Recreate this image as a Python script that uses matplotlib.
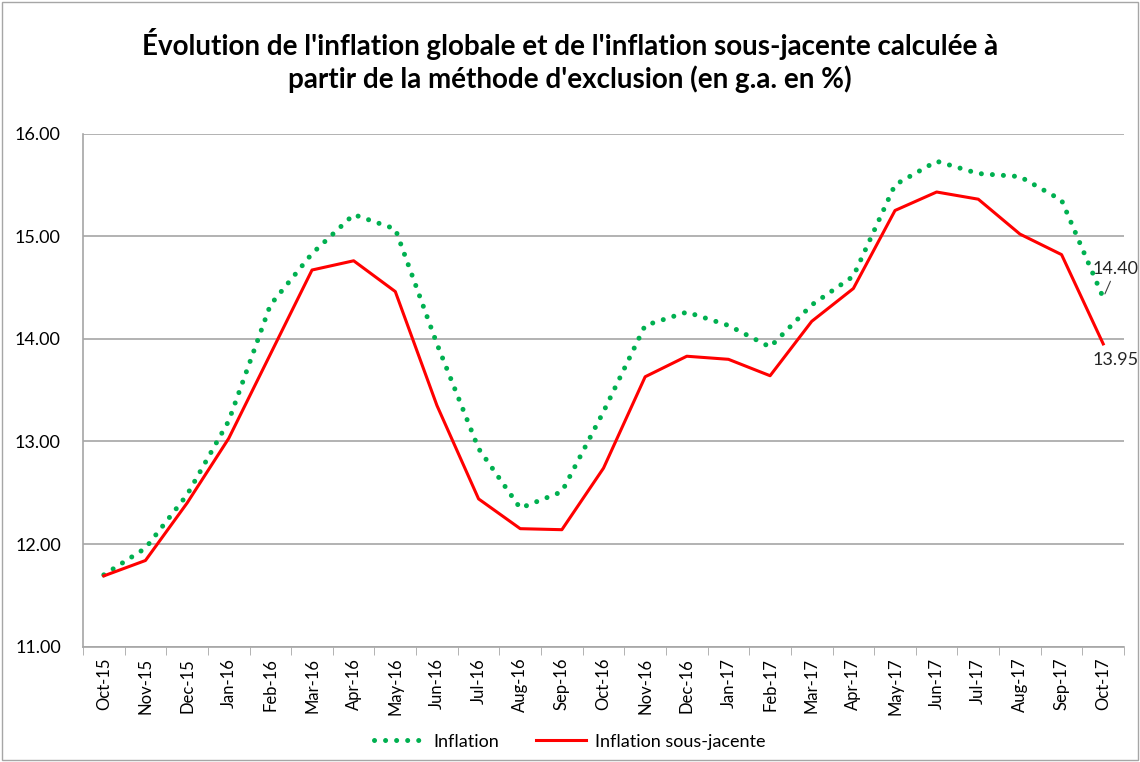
import numpy as np
import matplotlib
matplotlib.use("Agg")
import matplotlib.pyplot as plt

months = ["Oct-15", "Nov-15", "Dec-15", "Jan-16", "Feb-16", "Mar-16", "Apr-16",
          "May-16", "Jun-16", "Jul-16", "Aug-16", "Sep-16", "Oct-16", "Nov-16",
          "Dec-16", "Jan-17", "Feb-17", "Mar-17", "Apr-17", "May-17", "Jun-17",
          "Jul-17", "Aug-17", "Sep-17", "Oct-17"]

inflation = [11.70, 11.96, 12.48, 13.20, 14.33, 14.83, 15.21, 15.07, 13.95,
             12.93, 12.35, 12.51, 13.29, 14.13, 14.26, 14.13, 13.92, 14.33,
             14.61, 15.50, 15.73, 15.61, 15.58, 15.35, 14.40]

sous_jacente = [11.69, 11.84, 12.40, 13.03, 13.85, 14.67, 14.76, 14.46, 13.35,
                12.44, 12.15, 12.14, 12.74, 13.63, 13.83, 13.80, 13.64, 14.17,
                14.49, 15.25, 15.43, 15.36, 15.02, 14.82, 13.95]

plt.rcParams['font.family'] = ['Lato', 'DejaVu Sans']

fig = plt.figure(figsize=(11.4, 7.62), dpi=100)
ax = fig.add_axes([0.0728, 0.1513, 0.9132, 0.6735])

x = np.arange(len(months))
ax.plot(x, inflation, color='#00b050', lw=3.6, linestyle=(0, (0.01, 2.2)),
        dash_capstyle='round', label='Inflation', zorder=3)
ax.plot(x, sous_jacente, color='#ff0000', lw=2.2, label='Inflation sous-jacente',
        zorder=3)

ax.set_xlim(-0.5, len(months) - 0.5)
ax.set_ylim(11, 16)
ax.set_yticks(np.arange(11, 16.01, 1))
ax.set_yticklabels([f"{v:.2f}" for v in np.arange(11, 16.01, 1)], fontsize=13)
ax.set_xticks(x)
ax.set_xticklabels(months, rotation=90, fontsize=12)
ax.set_xticks(np.arange(-0.5, len(months), 1), minor=True)
ax.tick_params(axis='x', which='major', length=0, pad=8)
ax.tick_params(axis='x', which='minor', length=6, color='#a6a6a6')
ax.tick_params(axis='y', length=0, pad=16)

ax.grid(axis='y', color='#a6a6a6', lw=1.2)
ax.set_axisbelow(True)
for s in ['top', 'right']:
    ax.spines[s].set_visible(False)
for s in ['left', 'bottom']:
    ax.spines[s].set_color('#a6a6a6')
    ax.spines[s].set_linewidth(1.2)

# end labels
ax.annotate(f"{inflation[-1]:.2f}", xy=(x[-1], inflation[-1]),
            xytext=(x[-1] + 0.3, inflation[-1] + 0.2), fontsize=13,
            ha='center', va='bottom', color='#262626',
            arrowprops=dict(arrowstyle='-', color='#404040', lw=0.8,
                            shrinkA=1, shrinkB=3))
ax.annotate(f"{sous_jacente[-1]:.2f}", xy=(x[-1], sous_jacente[-1]),
            xytext=(x[-1] + 0.3, sous_jacente[-1] - 0.08), fontsize=13,
            ha='center', va='top', color='#262626')

fig.text(0.5, 0.963, "Évolution de l'inflation globale et de l'inflation sous-jacente calculée à\n"
         "partir de la méthode d'exclusion (en g.a. en %)",
         ha='center', va='top', fontsize=20, fontweight='bold', linespacing=1.25)

fig.legend(loc='lower center', bbox_to_anchor=(0.5, -0.005), ncol=2, frameon=False,
           fontsize=13, handlelength=2.8, handletextpad=0.5, columnspacing=2.0)

# chart border
fig.patches.append(plt.Rectangle((0.002, 0.002), 0.996, 0.996, transform=fig.transFigure,
                                 fill=False, edgecolor='#a6a6a6', lw=1))

fig.savefig("out.png", dpi=100)
